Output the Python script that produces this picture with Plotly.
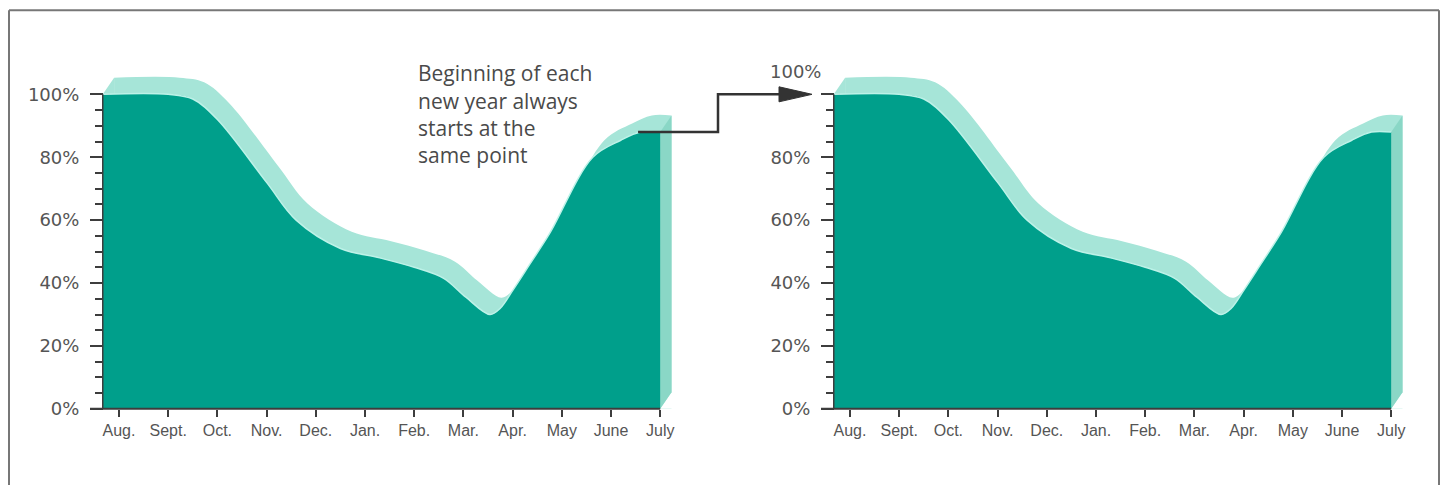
import plotly.graph_objects as go

# ---------------- data ----------------
months = ["Aug.", "Sept.", "Oct.", "Nov.", "Dec.", "Jan.", "Feb.", "Mar.", "Apr.", "May", "June", "July"]

# curve samples: position in months (0 = Aug., 11 = July) and value in %
year1_pos = [-0.33, 1.0, 1.5, 2.0, 3.0, 3.6, 4.5, 5.3, 6.0, 6.6, 7.05, 7.54, 7.75, 8.0, 8.35, 8.75, 9.63, 10.2, 10.6, 11.0]
year1_pct = [100, 100, 98.5, 92, 72, 60, 51, 48, 45, 41.5, 35.5, 30, 32, 37.6, 46, 55.7, 80, 85.4, 88, 88]
year2_pos = [-0.33, 1.0, 1.5, 2.0, 3.0, 3.6, 4.5, 5.3, 6.0, 6.6, 7.05, 7.54, 7.75, 8.0, 8.35, 8.75, 9.63, 10.2, 10.6, 11.0]
year2_pct = [100, 100, 98.5, 92, 72, 60, 51, 48, 45, 41.5, 35.5, 30, 32, 37.6, 46, 55.7, 80, 85.4, 88, 88]

y_major = [0, 20, 40, 60, 80, 100]
y_labels = ["0%", "20%", "40%", "60%", "80%", "100%"]
note_lines = ["Beginning of each", "new year always", "starts at the", "same point"]

# ---------------- styling / layout constants ----------------
OFF = 8                         # default page margin around the plot div
S = 485 / 496                   # vertical scale of the captured picture
FW, FH = 1432, 488
PPM = 49.2                      # px per month
PPP = 3.14 / S                  # page px per percent
BASE_R = 408                    # picture row of 0%
Y_TOP = 110
DX, DY = 0.23, 5.3              # 3-D extrusion offset (months, %)
DARK = "#009F8B"
LIGHT = "#A6E5D8"
FACE = "#8AD7C6"
EDGE = "#BDF2E8"
AXIS = "#3d3d3d"
TXT = "#555555"


def fx(px):
    return (px - OFF) / FW


def fy(r):
    return (FH + OFF - r / S) / FH


charts = [
    dict(aug_px=119, yaxis_px=103, left_px=90, right_px=700, pos=year1_pos, pct=year1_pct),
    dict(aug_px=850, yaxis_px=834, left_px=821, right_px=1430, pos=year2_pos, pct=year2_pct),
]

ydom = [fy(BASE_R), fy(BASE_R) + Y_TOP * PPP / FH]

fig = go.Figure()
shapes = []
annotations = []

for i, c in enumerate(charts):
    xa = "x" if i == 0 else "x2"
    ya = "y" if i == 0 else "y2"
    pos, pct = c["pos"], c["pct"]
    x0, xe = pos[0], pos[-1]
    p0, pe = pct[0], pct[-1]
    nl = dict(width=0)
    # left slanted corner of the top band
    fig.add_trace(go.Scatter(x=[x0, x0 + DX, x0 + DX], y=[p0, p0 + DY, p0], fill="toself",
                             fillcolor=LIGHT, mode="lines", line=nl, xaxis=xa, yaxis=ya,
                             hoverinfo="skip", showlegend=False))
    # shifted (back) surface
    fig.add_trace(go.Scatter(x=[p + DX for p in pos], y=[v + DY for v in pct], fill="tozeroy",
                             fillcolor=LIGHT, mode="lines", line=dict(width=0, shape="spline"),
                             xaxis=xa, yaxis=ya, hoverinfo="skip", showlegend=False))
    # cut the bottom-right corner back to white
    fig.add_trace(go.Scatter(x=[xe, xe + DX + 0.2, xe + DX + 0.2, xe + DX], y=[0, 0, DY, DY], fill="toself",
                             fillcolor="white", mode="lines", line=nl, xaxis=xa, yaxis=ya,
                             hoverinfo="skip", showlegend=False))
    # right side face
    fig.add_trace(go.Scatter(x=[xe, xe + DX, xe + DX, xe], y=[0, DY, pe + DY, pe], fill="toself",
                             fillcolor=FACE, mode="lines", line=nl, xaxis=xa, yaxis=ya,
                             hoverinfo="skip", showlegend=False))
    # front (dark) area
    fig.add_trace(go.Scatter(x=pos, y=pct, fill="tozeroy", fillcolor=DARK, mode="lines",
                             line=dict(width=1.5, color=EDGE, shape="spline"),
                             xaxis=xa, yaxis=ya, hoverinfo="skip", showlegend=False))

    xr = [(c["left_px"] - c["aug_px"]) / PPM, (c["right_px"] - c["aug_px"]) / PPM]
    xkey = "xaxis" if i == 0 else "xaxis2"
    ykey = "yaxis" if i == 0 else "yaxis2"
    fig.update_layout(**{
        xkey: dict(domain=[fx(c["left_px"]), fx(c["right_px"])], range=xr, anchor=ya,
                   tickvals=list(range(len(months))), ticktext=months, ticks="outside",
                   ticklen=7, tickwidth=2, tickcolor=AXIS, showline=False, showgrid=False,
                   zeroline=False, tickfont=dict(family="Liberation Sans", size=16, color=TXT),
                   ticklabelstandoff=0),
        ykey: dict(domain=ydom, range=[0, Y_TOP], anchor="free", position=fx(c["yaxis_px"]),
                   tickvals=y_major,
                   ticktext=y_labels if i == 0 else y_labels[:-1] + [""],
                   ticks="outside", ticklen=13, tickwidth=2, tickcolor=AXIS,
                   minor=dict(tickvals=[v for v in range(5, 100, 5) if v % 20], ticks="outside",
                              ticklen=8, tickwidth=2, tickcolor=AXIS),
                   showline=False, showgrid=False, zeroline=False, ticklabelstandoff=7,
                   tickfont=dict(family="DejaVu Sans", size=18, color=TXT)),
    })
    # axis lines
    shapes.append(dict(type="line", xref=xa, yref="paper", x0=xr[0], x1=len(months) - 1,
                       y0=ydom[0], y1=ydom[0], line=dict(color=AXIS, width=2)))
    shapes.append(dict(type="line", xref=xa, yref=ya, x0=x0, x1=x0, y0=0, y1=y_major[-1],
                       line=dict(color=AXIS, width=1.5)))

# right chart's raised 100% label
annotations.append(dict(xref="paper", yref="y2", x=fx(823), y=y_major[-1], yshift=23,
                        text=y_labels[-1], showarrow=False, xanchor="right", yanchor="middle",
                        font=dict(family="DejaVu Sans", size=18, color=TXT)))

# note text
for k, line in enumerate(note_lines):
    annotations.append(dict(xref="paper", yref="paper", x=fx(416), y=fy(73 + 27.3 * k),
                            text=line, showarrow=False, xanchor="left", yanchor="middle",
                            font=dict(family="Open Sans", size=21, color="#4a4a4a")))

# connector arrow from end of year 1 to start of year 2
c1, c2 = charts
sx = fx(c1["aug_px"] + 10.55 * PPM)
sy = ydom[0] + year1_pct[-1] * PPP / FH
ex_elbow = fx(718)
ey = ydom[0] + year2_pct[0] * PPP / FH
tip = fx(812)
head_w = 33 / FW
head_h = 7.5 / S / FH
shapes.append(dict(type="path", xref="paper", yref="paper",
                   path=f"M {sx} {sy} L {ex_elbow} {sy} L {ex_elbow} {ey} L {tip - head_w + 0.002} {ey}",
                   line=dict(color="#333333", width=2.5)))
shapes.append(dict(type="path", xref="paper", yref="paper",
                   path=f"M {tip - head_w} {ey + head_h} L {tip} {ey} L {tip - head_w} {ey - head_h} Z",
                   fillcolor="#333333", line=dict(color="#333333", width=1)))

# frame
top = fy(10)
shapes += [
    dict(type="line", xref="paper", yref="paper", x0=fx(9), x1=fx(1439), y0=top, y1=top, line=dict(color="#777777", width=2)),
    dict(type="line", xref="paper", yref="paper", x0=fx(9), x1=fx(9), y0=0, y1=top, line=dict(color="#777777", width=2)),
    dict(type="line", xref="paper", yref="paper", x0=fx(1439), x1=fx(1439), y0=0, y1=top, line=dict(color="#777777", width=2)),
]

fig.update_layout(width=FW, height=FH, margin=dict(l=0, r=0, t=0, b=0), paper_bgcolor="white",
                  plot_bgcolor="rgba(0,0,0,0)", shapes=shapes, annotations=annotations,
                  showlegend=False)
fig.write_html("out.html")
